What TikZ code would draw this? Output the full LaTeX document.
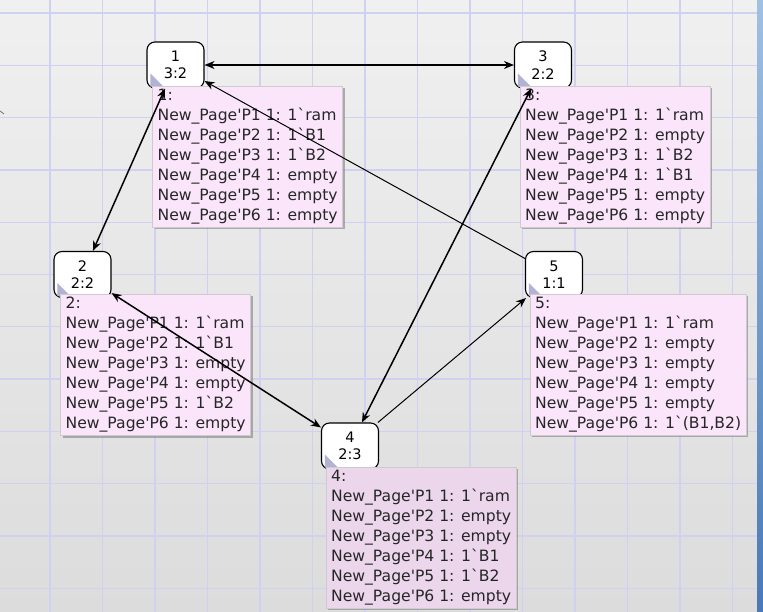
\documentclass[tikz,border=0pt]{standalone}
\usepackage{fontspec}
\setmainfont{DejaVu Sans}
\usetikzlibrary{positioning,arrows.meta,shadows}
\definecolor{gridblue}{RGB}{208,208,242}
\definecolor{markpink}{RGB}{251,229,251}
\definecolor{markpinkdark}{RGB}{236,214,236}
\definecolor{cornermark}{RGB}{178,178,212}
\definecolor{screentop}{RGB}{240,240,240}
\definecolor{screenbottom}{RGB}{220,220,220}
\definecolor{barlight}{RGB}{160,192,228}
\definecolor{bardark}{RGB}{72,122,182}
\tikzset{
  state/.style={draw=black, line width=1.1pt, fill=white, rounded corners=8pt,
    minimum width=57pt, minimum height=46pt, inner sep=0pt, align=center,
    font=\fontsize{14.5}{17.5}\selectfont},
  marking/.style={fill=markpink, draw=black!20, line width=0.4pt, align=left,
    inner xsep=5pt, inner ysep=3pt, text=black!85,
    font=\fontsize{15.6}{20}\selectfont,
    drop shadow={shadow xshift=2pt, shadow yshift=-2pt, fill=black!50, opacity=0.6}},
  arc/.style={line width=1.5pt, {Stealth[length=10pt,width=8pt]}-{Stealth[length=10pt,width=8pt]}},
  arcone/.style={line width=1pt, -{Stealth[length=10pt,width=8pt]}},
}
\newcommand{\pg}[2]{New\_Page\textquotesingle P#1 1: #2}
\newcommand{\bq}{\textasciigrave}
\begin{document}
\begin{tikzpicture}[x=1pt,y=-1pt]
	\useasboundingbox (0,0) rectangle (763,612);
	% screen and grid
	\shade[top color=screentop, bottom color=screenbottom] (0,0) rectangle (763,612);
	\foreach \gx in {0,...,13} \draw[gridblue, line width=1.3pt] ({50+52.5*\gx},0) -- ({50+52.5*\gx},612);
	\foreach \gy in {0,...,11} \draw[gridblue, line width=1.3pt] (0,{13+52.3*\gy}) -- (757,{13+52.3*\gy});
	\shade[top color=barlight, bottom color=bardark] (757,0) rectangle (763,612);
	\draw[black!55, line width=0.8pt] (0,111) -- (4,114);
	% state nodes
	\node [state] (n1) at (175.5,65) {1\\3:2};
	\node [state] (n3) at (543,65) {3\\2:2};
	\node [state] (n2) at (82.5,274.5) {2\\2:2};
	\node [state] (n5) at (554,274.5) {5\\1:1};
	\node [state] (n4) at (350,446) {4\\2:3};
	\foreach \n in {n1,n2,n3,n4,n5}
		\fill [cornermark] ([xshift=4pt,yshift=2pt]\n.south west) -- ++(0pt,13pt) -- ++(13pt,-13pt) -- cycle;
	% markings
	\node [marking, below right=-3pt and 6pt of n1.south west] (m1) {1:\\
		\pg{1}{1\bq ram}\\ \pg{2}{1\bq B1}\\ \pg{3}{1\bq B2}\\
		\pg{4}{empty}\\ \pg{5}{empty}\\ \pg{6}{empty}};
	\node [marking, below right=-3pt and 6pt of n3.south west] (m3) {3:\\
		\pg{1}{1\bq ram}\\ \pg{2}{empty}\\ \pg{3}{1\bq B2}\\
		\pg{4}{1\bq B1}\\ \pg{5}{empty}\\ \pg{6}{empty}};
	\node [marking, below right=-4pt and 7pt of n2.south west] (m2) {2:\\
		\pg{1}{1\bq ram}\\ \pg{2}{1\bq B1}\\ \pg{3}{empty}\\
		\pg{4}{empty}\\ \pg{5}{1\bq B2}\\ \pg{6}{empty}};
	\node [marking, below right=-4pt and 5pt of n5.south west] (m5) {5:\\
		\pg{1}{1\bq ram}\\ \pg{2}{empty}\\ \pg{3}{empty}\\
		\pg{4}{empty}\\ \pg{5}{empty}\\ \pg{6}{1\bq(B1,B2)}};
	\node [marking, fill=markpinkdark, below right=-3pt and 5pt of n4.south west] (m4) {4:\\
		\pg{1}{1\bq ram}\\ \pg{2}{empty}\\ \pg{3}{empty}\\
		\pg{4}{1\bq B1}\\ \pg{5}{1\bq B2}\\ \pg{6}{empty}};
	% arcs
	\draw [arc] (n1) -- (n3);
	\draw [arc] (n1) -- (n2);
	\draw [arc] (n2) -- (n4);
	\draw [arc] (n3) -- (n4);
	\draw [arcone] (n4) -- (n5);
	\draw [arcone] (n5) -- (n1);
\end{tikzpicture}
\end{document}
